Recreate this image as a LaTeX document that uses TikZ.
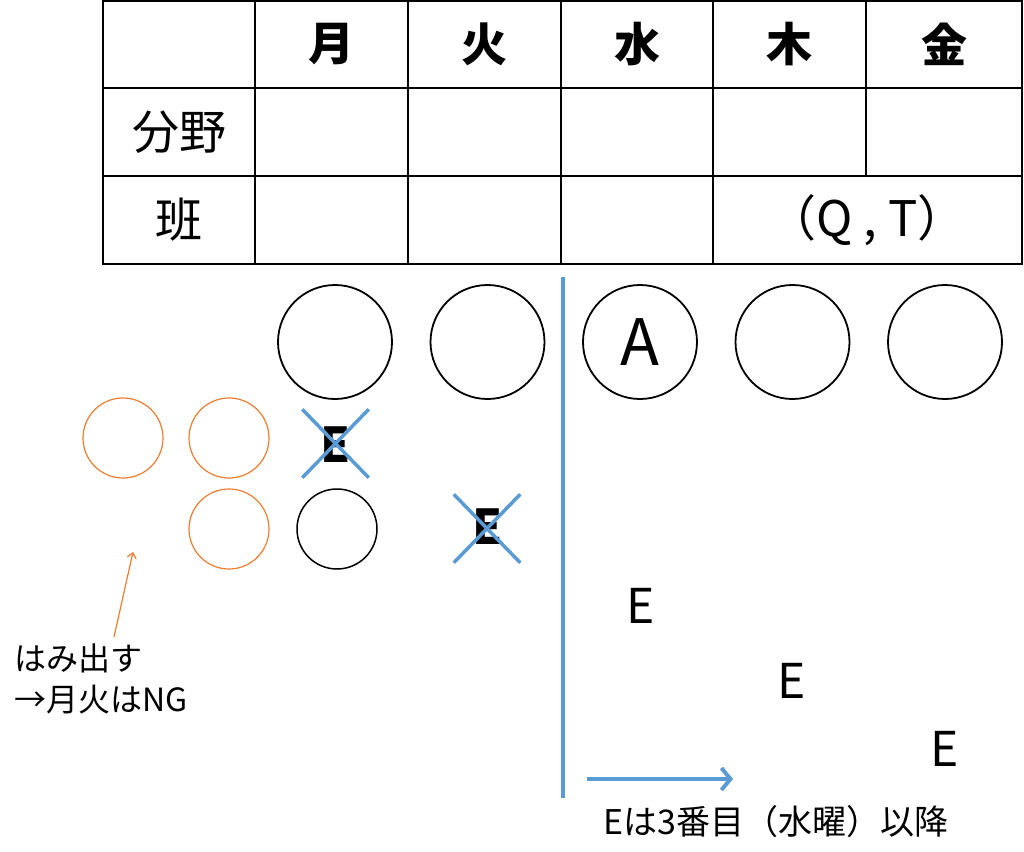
\documentclass[tikz,border=0pt]{standalone}
\usepackage{fontspec}
\setmainfont{Noto Sans CJK JP}
\usetikzlibrary{positioning}
\usetikzlibrary{arrows.meta}
\usetikzlibrary{shapes.misc}

\definecolor{lineblue}{RGB}{91,155,213}
\definecolor{markorange}{RGB}{237,125,49}

\begin{document}
\begin{tikzpicture}[x=1pt,y=-1pt]
        \tikzset{
          node distance=152.5pt,
          day/.style={font=\fontsize{46}{50}\selectfont\bfseries},
          rowname/.style={font=\fontsize{47}{50}\selectfont},
          slot/.style={
            circle,
            draw,
            line width=1.8pt,
            inner sep = 0pt,
            minimum size = 114pt,
          },
          smallslot/.style={circle, draw, line width=1.5pt, inner sep=0pt, minimum size=80pt},
          overflow/.style={smallslot, draw=markorange, line width=1.2pt},
          letter/.style={font=\fontsize{48}{50}\selectfont},
          struckletter/.style={font=\fontsize{48}{50}\selectfont\bfseries},
          struck/.style={
            cross out,
            draw=lineblue,
            line width=3.5pt,
            inner sep = 0pt,
            minimum width = 63pt,
            minimum height = 65pt,
          },
          note/.style={font=\fontsize{32}{41}\selectfont, align=left, inner sep=0pt},
        }
        \useasboundingbox (0,0) rectangle (1024,851);
        % table
        \draw[line width=2pt] (103,1) rectangle (1022,264);
        \draw[line width=2pt]
          (103,88) -- (1022,88)
          (103,176) -- (1022,176)
          (255,1) -- (255,264)
          (408,1) -- (408,264)
          (561,1) -- (561,264)
          (713,1) -- (713,264)
          (866,1) -- (866,176);
        \node[day] (mon) at (331.5,44) {月};
        \node[day] (tue) at (484.5,44) {火};
        \node[day] (wed) at (637,44) {水};
        \node[day] (thu) at (789.5,44) {木};
        \node[day] (fri) at (944,44) {金};
        \node[rowname] (field) at (179,132) {分野};
        \node[rowname] (group) at (179,220) {班};
        \node[rowname, font=\fontsize{49}{50}\selectfont] (pair) at (867,220) {（Q , T）};
        % slots
        \node[slot] (c1) at (335,342) {};
        \node[slot, right of=c1] (c2) {};
        \node[slot, right of=c2] (c3) {\fontsize{64}{64}\selectfont A};
        \node[slot, right of=c3] (c4) {};
        \node[slot, right of=c4] (c5) {};
        \node[overflow] (o1) at (123,438) {};
        \node[overflow] (o2) at (229,438) {};
        \node[overflow] (o3) at (229,529) {};
        \node[smallslot] (s1) at (337,529) {};
        \node[struckletter] (e1) at (336,445) {E};
        \node[struck] (x1) at (335.5,443.5) {};
        \node[struckletter] (e2) at (488,527) {E};
        \node[struck] (x2) at (487,528.5) {};
        \node[letter] (e3) at (641,606) {E};
        \node[letter] (e4) at (792,681) {E};
        \node[letter] (e5) at (945,749) {E};
        % divider and notes
        \coordinate (divtop) at (563,277);
        \coordinate (divbot) at (563,798);
        \draw[lineblue, line width=4pt] (divtop) -- (divbot);
        \node[note, anchor=north west] (spill) at (14,644) {はみ出す\\→月火はNG};
        \coordinate (spilltail) at (114,637);
        \coordinate (spilltip) at (133,552);
        \draw[markorange, line width=1.2pt, -{Straight Barb[length=5pt, width=9pt]}] (spilltail) -- (spilltip);
        \node[font=\fontsize{34}{40}\selectfont] (rule) at (776,822) {Eは3番目（水曜）以降};
        \coordinate (later) at (587,779);
        \coordinate (laterend) at (733,779);
        \draw[lineblue, line width=4pt, -{Straight Barb[length=9pt, width=22pt]}] (later) -- (laterend);
      \end{tikzpicture}
\end{document}
